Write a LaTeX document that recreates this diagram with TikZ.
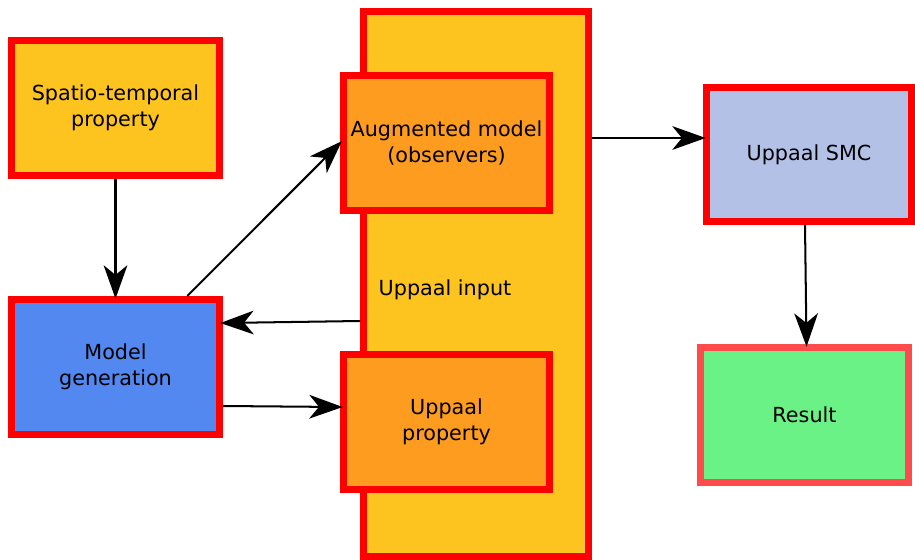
\documentclass[tikz,border=0pt]{standalone}
\usepackage{fontspec}
\setmainfont{DejaVu Sans}
\definecolor{inyellow}{HTML}{FDC41F}
\definecolor{augorange}{HTML}{FE9C20}
\definecolor{genblue}{HTML}{5388F1}
\definecolor{smcblue}{HTML}{B3C1E6}
\definecolor{resgreen}{HTML}{6BF286}
\definecolor{resred}{HTML}{FF4B4B}
\usetikzlibrary{calc, positioning, arrows.meta}

\begin{document}
\begin{tikzpicture}[x=0.02cm, y=-0.02cm,
  block/.style={draw=red, line width=3.97pt, minimum width=4.16cm, minimum height=2.7cm,
    inner sep=0pt, align=center, font=\fontsize{11.8}{14.8}\selectfont},
  arr/.style={-{Stealth[length=19pt, width=13.5pt, inset=5.5pt]}, line width=1.15pt, shorten >=-1.5pt}]
  \useasboundingbox (0,0) rectangle (915,560);
  \node[block, fill=inyellow] (spatio) at (115.5,108) {Spatio-temporal\\property};
  \node[block, fill=genblue] (modelgen) at (115.5,367) {Model\\generation};
  \node[block, fill=inyellow, minimum width=4.5cm, minimum height=10.9cm] (input) at (476,284) {};
  \node[font=\fontsize{11.8}{14.8}\selectfont] (inputlbl) at (445,290) {Uppaal input};
  \node[block, fill=augorange, minimum width=4.12cm] (aug) at (446.5,143) {Augmented model\\(observers)};
  \node[block, fill=augorange, minimum width=4.12cm] (prop) at (446.5,422) {Uppaal\\property};
  \node[block, fill=smcblue, minimum width=4.1cm, minimum height=2.68cm] (smc) at (809,154.5) {Uppaal SMC};
  \node[block, draw=resred, fill=resgreen] (result) at (804.5,415) {Result};

  \draw[arr] (spatio) -- (modelgen);
  \draw[arr] ($(modelgen.north west)!0.834!(modelgen.north east)$) -- (aug.west);
  \draw[arr] ($(input.west)+(0,37)$) -- ($(modelgen.east)+(0,-44)$);
  \draw[arr] ($(modelgen.east)+(0,39)$) -- ($(prop.west)+(0,-15)$);
  \draw[arr] ($(input.east)+(0,-146)$) -- ($(smc.west)+(0,-16.5)$);
  \draw[arr] ($(smc.south)+(-4,0)$) -- ($(result.north)+(2,0)$);
\end{tikzpicture}
\end{document}
